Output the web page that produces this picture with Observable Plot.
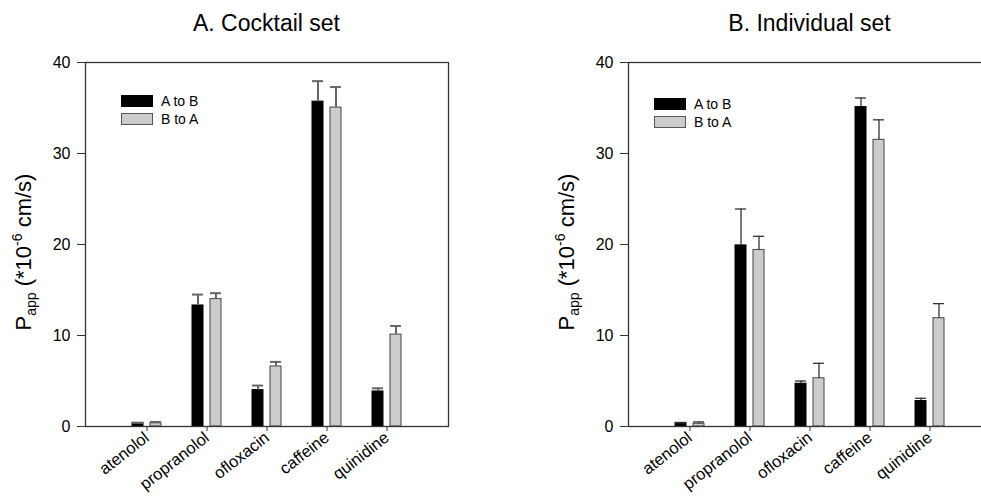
<!DOCTYPE html>
<html>
<head>
<meta charset="utf-8">
<script src="https://cdn.jsdelivr.net/npm/d3@7"></script>
<script src="https://cdn.jsdelivr.net/npm/@observablehq/plot@0.6"></script>
<style>
  html, body { margin: 0; padding: 0; background: #fff; }
  body { width: 981px; height: 496px; overflow: hidden; position: relative; font-family: "Liberation Sans", Arial, sans-serif; color: #000; }
  .panel { position: absolute; top: 0; }
  .panel svg { max-width: none !important; }
  .title { position: absolute; top: 10px; font-size: 23px; transform: translateX(-50%); white-space: nowrap; }
  .ylabel { position: absolute; font-size: 22px; white-space: nowrap; transform: translate(-50%, -50%) rotate(-90deg); }
  .ylabel sub { font-size: 14px; vertical-align: -5px; }
  .ylabel sup { font-size: 14px; vertical-align: 9px; }
  .legend { position: absolute; font-size: 14px; }
  .legend .row { display: flex; align-items: center; height: 18px; }
  .legend .sw { width: 32px; height: 12px; box-sizing: border-box; margin-right: 8px; }
</style>
</head>
<body>
<script>
// ---- data ----
const drugs = ["atenolol", "propranolol", "ofloxacin", "caffeine", "quinidine"];
const yTicks = [0, 10, 20, 30, 40];
const seriesNames = ["A to B", "B to A"];

const cocktailAtoB    = [0.4, 13.3, 4.0, 35.7, 3.85];
const cocktailAtoBErr = [0.0, 1.2, 0.5, 2.25, 0.35];
const cocktailBtoA    = [0.35, 14.0, 6.6, 35.05, 10.1];
const cocktailBtoAErr = [0.15, 0.65, 0.5, 2.25, 0.95];

const individualAtoB    = [0.4, 19.9, 4.7, 35.1, 2.8];
const individualAtoBErr = [0.0, 4.0, 0.3, 1.0, 0.3];
const individualBtoA    = [0.3, 19.4, 5.3, 31.5, 11.9];
const individualBtoAErr = [0.2, 1.5, 1.65, 2.2, 1.6];

const panels = [
  {title: "A. Cocktail set", left: 0, width: 490, marginLeft: 85, marginRight: 42,
   ab: cocktailAtoB, abErr: cocktailAtoBErr, ba: cocktailBtoA, baErr: cocktailBtoAErr,
   errStroke: "#666", errWidth: 2, legendX: 121, legendY: 92, labelX: 24},
  {title: "B. Individual set", left: 490, width: 501, marginLeft: 138, marginRight: 0,
   ab: individualAtoB, abErr: individualAtoBErr, ba: individualBtoA, baErr: individualBtoAErr,
   errStroke: "#333", errWidth: 1.3, legendX: 654, legendY: 95, labelX: 567}
];

const colors = {ab: "#000000", ba: "#cccccc"};

for (const p of panels) {
  const rows = drugs.map((d, i) => ({drug: d, ab: p.ab[i], abErr: p.abErr[i], ba: p.ba[i], baErr: p.baErr[i]}));
  const chart = Plot.plot({
    width: p.width,
    height: 496,
    marginLeft: p.marginLeft,
    marginRight: p.marginRight,
    marginTop: 62,
    marginBottom: 70,
    style: {fontFamily: "'Liberation Sans', Arial, sans-serif", fontSize: "16px", color: "#000", background: "transparent", overflow: "visible", maxWidth: "none"},
    x: {type: "band", domain: drugs, paddingInner: 0.52, paddingOuter: 0.76},
    y: {domain: [0, 40]},
    marks: [
      Plot.barY(rows, {x: "drug", y: "ab", fill: colors.ab, stroke: "#000", strokeWidth: 1, insetRight: 18}),
      Plot.barY(rows, {x: "drug", y: "ba", fill: colors.ba, stroke: "#444", strokeWidth: 1, insetLeft: 18}),
      Plot.ruleX(rows, {x: "drug", y1: "ab", y2: d => d.ab + d.abErr, dx: -9, stroke: p.errStroke, strokeWidth: p.errWidth}),
      Plot.tickY(rows, {x: "drug", y: d => d.ab + d.abErr, insetRight: 18, stroke: p.errStroke, strokeWidth: p.errWidth}),
      Plot.ruleX(rows, {x: "drug", y1: "ba", y2: d => d.ba + d.baErr, dx: 9, stroke: p.errStroke, strokeWidth: p.errWidth}),
      Plot.tickY(rows, {x: "drug", y: d => d.ba + d.baErr, insetLeft: 18, stroke: p.errStroke, strokeWidth: p.errWidth}),
      Plot.frame({stroke: "#333", strokeWidth: 1.3}),
      Plot.axisY({ticks: yTicks, tickSize: 8, tickPadding: 7, fontSize: 16, label: null, stroke: "#333"}),
      Plot.axisX({tickSize: 5, tickPadding: 4, tickRotate: -38, fontSize: 16.5, label: null, stroke: "#333"})
    ]
  });
  const wrap = document.createElement("div");
  wrap.className = "panel";
  wrap.style.left = p.left + "px";
  wrap.style.width = p.width + "px";
  wrap.appendChild(chart);
  document.body.appendChild(wrap);

  const t = document.createElement("div");
  t.className = "title";
  t.style.left = (p.left + p.marginLeft + 181.5) + "px";
  t.textContent = p.title;
  document.body.appendChild(t);

  const yl = document.createElement("div");
  yl.className = "ylabel";
  yl.style.left = p.labelX + "px";
  yl.style.top = "252px";
  yl.innerHTML = "P<sub>app</sub> (*10<sup>-6</sup> cm/s)";
  document.body.appendChild(yl);

  const lg = document.createElement("div");
  lg.className = "legend";
  lg.style.left = p.legendX + "px";
  lg.style.top = p.legendY + "px";
  seriesNames.forEach((name, i) => {
    const row = document.createElement("div");
    row.className = "row";
    const sw = document.createElement("div");
    sw.className = "sw";
    sw.style.background = i === 0 ? colors.ab : colors.ba;
    sw.style.border = i === 0 ? "1px solid #000" : "1px solid #555";
    const tx = document.createElement("span");
    tx.textContent = name;
    row.appendChild(sw);
    row.appendChild(tx);
    lg.appendChild(row);
  });
  document.body.appendChild(lg);
}
</script>
</body>
</html>
